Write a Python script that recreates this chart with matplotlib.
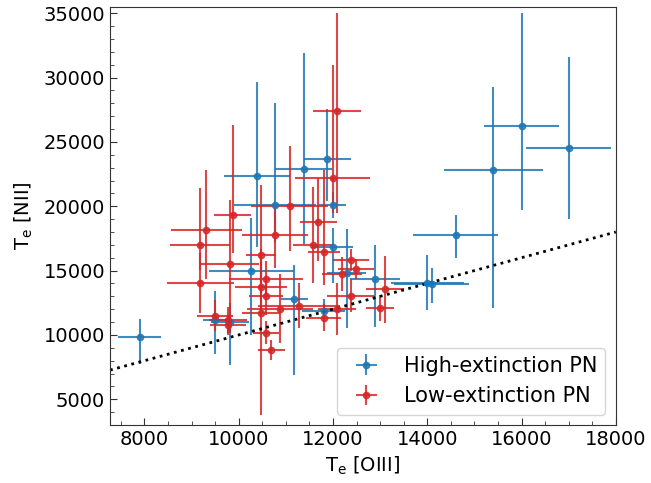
import numpy as np
import matplotlib
matplotlib.use('Agg')
from matplotlib import pyplot as plt

# high-extinction PN: Te[OIII], Te[NII] and errors
hi_x = [16000, 17000, 15400, 14600, 14000, 14090, 7900, 11380, 11880, 10380,
        10270, 11990, 10770, 11990, 12290, 12890, 11180, 11800, 9490, 9820]
hi_y = [26220, 24510, 22800, 17730, 14000, 13950, 9870, 22930, 23650, 22360,
        14930, 20070, 20120, 16800, 14800, 14340, 12800, 11870, 11170, 11040]
hi_xerr = [800, 900, 1050, 900, 770, 800, 460, 600, 500, 700,
           910, 280, 880, 440, 420, 530, 280, 460, 255, 400]
hi_yerr_lo = [6540, 5500, 10720, 1760, 2050, 1430, 2130, 5900, 3270, 5500,
              4930, 1000, 3000, 2750, 4260, 3690, 5920, 900, 2650, 3380]
hi_yerr_hi = [8800, 7100, 6460, 1560, 2180, 1240, 1380, 9000, 3870, 7300,
              4180, 1000, 7930, 1500, 3430, 2670, 2650, 900, 2280, 1430]

# low-extinction PN
lo_x = [12080, 11990, 9870, 11080, 9310, 9180, 10770, 11690, 11580, 11800,
        10470, 9820, 12380, 12190, 12490, 9180, 10580, 10470, 10580, 10880,
        11280, 10470, 9490, 9770, 9780, 10580, 10690, 11800, 12080, 12380,
        13100, 13000]
lo_y = [27390, 22200, 19350, 20050, 18120, 17010, 17730, 18780, 17010, 16410,
        16230, 15500, 15840, 14750, 15120, 14030, 14340, 13710, 13060, 12050,
        12260, 11690, 11480, 11170, 10780, 10180, 8830, 11350, 12030, 13060,
        13560, 12080]
lo_xerr = [510, 800, 400, 816, 750, 630, 700, 400, 420, 340,
           320, 620, 390, 430, 390, 710, 780, 550, 370, 700,
           870, 400, 380, 400, 380, 280, 290, 370, 400, 500,
           400, 300]
lo_yerr_lo = [7900, 2720, 3000, 3500, 3800, 2000, 2500, 3000, 3000, 2500,
              3000, 5350, 850, 1300, 800, 2300, 1400, 2000, 1500, 2700,
              1750, 7900, 1200, 1000, 800, 900, 780, 1040, 2000, 1300,
              2600, 1000]
lo_yerr_hi = [7600, 8780, 6980, 4670, 4700, 4400, 2240, 3420, 4490, 6390,
              5400, 5000, 850, 1300, 800, 2300, 1400, 2000, 1500, 2700,
              1750, 5000, 1200, 1000, 800, 900, 780, 1040, 2000, 1300,
              2600, 1000]

fig = plt.figure(figsize=(6.51, 4.83), dpi=100)
ax = fig.add_axes([0.169, 0.120, 0.777, 0.866])

ax.errorbar(hi_x, hi_y, xerr=hi_xerr, yerr=[hi_yerr_lo, hi_yerr_hi], fmt='o',
            color='tab:blue', ms=4.5, elinewidth=1.5, alpha=0.85,
            label='High-extinction PN')
ax.errorbar(lo_x, lo_y, xerr=lo_xerr, yerr=[lo_yerr_lo, lo_yerr_hi], fmt='o',
            color='tab:red', ms=4.5, elinewidth=1.5, alpha=0.85,
            label='Low-extinction PN')

ax.set_xlim(7270, 18000)
ax.set_ylim(3000, 35500)
xl = np.array(ax.get_xlim())
ax.plot(xl, xl, ':', color='black', lw=2)  # 1:1 line

ax.set_xticks(np.arange(8000, 18001, 2000))
ax.set_xticks(np.arange(7500, 18001, 500), minor=True)
ax.set_yticks(np.arange(5000, 35001, 5000))
ax.set_yticks(np.arange(3000, 35501, 1000), minor=True)
ax.tick_params(which='both', direction='in', labelsize=14, colors='#333333',
               labelcolor='black')
ax.tick_params(which='major', length=5)
ax.tick_params(which='minor', length=3)
for s in ax.spines.values():
    s.set_color('#333333')

ax.set_xlabel('T$_\\mathrm{e}$ [OIII]', fontsize=14)
ax.set_ylabel('T$_\\mathrm{e}$ [NII]', fontsize=14, labelpad=6)
ax.legend(loc='lower right', fontsize=15)

plt.savefig('out.png', dpi=100)
